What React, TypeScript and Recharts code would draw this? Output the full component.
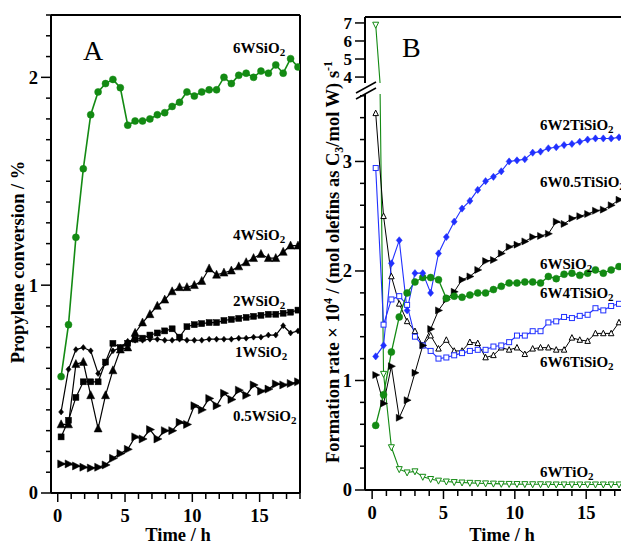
import React from "react";
import { LineChart, Line, XAxis, YAxis, ReferenceLine } from "recharts";

// time on stream (h), shared by both panels
const timeA = [0.25, 0.8, 1.35, 1.9, 2.45, 3.0, 3.55, 4.1, 4.65, 5.2, 5.75, 6.3, 6.85, 7.4, 7.95, 8.5, 9.05, 9.6, 10.15, 10.7, 11.25, 11.8, 12.35, 12.9, 13.45, 14.0, 14.55, 15.1, 15.65, 16.2, 16.75, 17.3, 17.85];
const timeB = [0.25, 0.8, 1.35, 1.9, 2.45, 3.0, 3.55, 4.1, 4.65, 5.2, 5.75, 6.3, 6.85, 7.4, 7.95, 8.5, 9.05, 9.6, 10.15, 10.7, 11.25, 11.8, 12.35, 12.9, 13.45, 14.0, 14.55, 15.1, 15.65, 16.2, 16.75, 17.3, 17.85];

// panel A: propylene conversion (%)
const conv6W = [0.56, 0.81, 1.23, 1.56, 1.82, 1.93, 1.97, 1.99, 1.95, 1.77, 1.79, 1.79, 1.8, 1.82, 1.83, 1.86, 1.88, 1.93, 1.91, 1.93, 1.94, 1.94, 2.0, 1.97, 2.01, 2.02, 2.0, 2.03, 2.02, 2.06, 2.02, 2.09, 2.05];
const conv4W = [0.33, 0.33, 0.62, 0.63, 0.47, 0.31, 0.47, 0.59, 0.69, 0.7, 0.77, 0.82, 0.86, 0.9, 0.93, 0.97, 0.99, 0.99, 1.0, 1.02, 1.08, 1.05, 1.06, 1.07, 1.09, 1.11, 1.13, 1.15, 1.13, 1.13, 1.16, 1.19, 1.19];
const conv2W = [0.27, 0.35, 0.46, 0.535, 0.535, 0.535, 0.63, 0.72, 0.7, 0.72, 0.74, 0.745, 0.76, 0.77, 0.78, 0.79, 0.75, 0.8, 0.81, 0.815, 0.82, 0.82, 0.83, 0.835, 0.84, 0.845, 0.85, 0.855, 0.86, 0.86, 0.865, 0.87, 0.88];
const conv1W = [0.39, 0.595, 0.69, 0.7, 0.684, 0.575, 0.626, 0.684, 0.7, 0.73, 0.735, 0.735, 0.74, 0.74, 0.735, 0.735, 0.74, 0.735, 0.735, 0.735, 0.74, 0.74, 0.74, 0.74, 0.745, 0.745, 0.75, 0.75, 0.76, 0.76, 0.805, 0.77, 0.78];
const conv05W = [0.14, 0.14, 0.13, 0.124, 0.12, 0.124, 0.135, 0.167, 0.19, 0.21, 0.27, 0.26, 0.305, 0.26, 0.3, 0.3, 0.34, 0.33, 0.42, 0.4, 0.455, 0.42, 0.48, 0.45, 0.495, 0.47, 0.52, 0.49, 0.5, 0.525, 0.52, 0.527, 0.535];

// panel B: formation rate x 10^4
const rate2Ti = [1.22, 1.32, 2.07, 2.28, 1.64, 1.98, 1.98, 1.8, 2.16, 2.31, 2.45, 2.57, 2.64, 2.74, 2.82, 2.86, 2.91, 3.0, 3.01, 3.02, 3.08, 3.09, 3.12, 3.13, 3.15, 3.16, 3.18, 3.2, 3.21, 3.21, 3.21, 3.22, 3.22];
const rate05Ti = [1.05, 0.79, 1.13, 0.66, 0.82, 1.07, 1.32, 1.47, 1.64, 1.74, 1.81, 1.92, 1.95, 2.01, 2.09, 2.1, 2.16, 2.22, 2.24, 2.27, 2.31, 2.32, 2.34, 2.45, 2.43, 2.48, 2.5, 2.52, 2.55, 2.56, 2.6, 2.65, 2.68];
const rateSiO2 = [0.59, 0.87, 1.26, 1.58, 1.8, 1.9, 1.94, 1.94, 1.92, 1.75, 1.77, 1.76, 1.78, 1.8, 1.8, 1.83, 1.86, 1.89, 1.89, 1.9, 1.9, 1.89, 1.95, 1.93, 1.97, 1.98, 1.96, 1.98, 2.01, 1.98, 2.01, 2.04, 2.05];
const rate4Ti = [2.94, 1.51, 1.74, 1.77, 1.69, 1.4, 1.32, 1.27, 1.2, 1.21, 1.23, 1.25, 1.27, 1.28, 1.28, 1.31, 1.32, 1.35, 1.41, 1.41, 1.45, 1.45, 1.53, 1.54, 1.58, 1.57, 1.59, 1.6, 1.66, 1.64, 1.68, 1.7, 1.71];
const rate6Ti = [3.44, 2.5, 1.95, 1.7, 1.54, 1.45, 1.32, 1.41, 1.29, 1.37, 1.27, 1.27, 1.35, 1.34, 1.21, 1.23, 1.3, 1.28, 1.3, 1.24, 1.29, 1.3, 1.3, 1.28, 1.28, 1.39, 1.37, 1.36, 1.43, 1.43, 1.43, 1.53, 1.55];
const rateTiO2 = [6.9, 1.06, 0.39, 0.19, 0.16, 0.17, 0.12, 0.1, 0.085, 0.077, 0.072, 0.068, 0.065, 0.062, 0.06, 0.058, 0.056, 0.055, 0.054, 0.053, 0.052, 0.052, 0.051, 0.05, 0.05, 0.05, 0.05, 0.05, 0.05, 0.05, 0.05, 0.05, 0.05];

// ticks
const xTicks = [0, 1, 2, 3, 4, 5, 6, 7, 8, 9, 10, 11, 12, 13, 14, 15, 16, 17, 18];
const xMajors = [0, 5, 10, 15];
const yMajorsA = [0, 1, 2];
const yMajorsBLow = [0, 1, 2, 3];
const yTicksBUp = [4, 5, 6, 7];
const yTicksA = Array.from({ length: 24 }, (_, i) => +(i * 0.1).toFixed(1));
const yTicksBLow = Array.from({ length: 19 }, (_, i) => +(i * 0.2).toFixed(1));

const dataA = timeA.map((t, i) => ({
  t,
  w6: conv6W[i],
  w4: conv4W[i],
  w2: conv2W[i],
  w1: conv1W[i],
  w05: conv05W[i],
}));

const dataB = timeB.map((t, i) => ({
  t,
  ti2: rate2Ti[i],
  ti05: rate05Ti[i],
  sio2: rateSiO2[i],
  ti4: rate4Ti[i],
  ti6: rate6Ti[i],
  tio2: rateTiO2[i],
}));

const FONT = "'Liberation Serif', 'Times New Roman', serif";
const GREEN = "#138a13";
const BLUE = "#2030ff";
const BLACK = "#000";
const AXIS = { stroke: "#000", strokeWidth: 2 };

const isIn = (arr: number[], v: number) => arr.some((m) => Math.abs(m - v) < 1e-6);

function YTick(props: any) {
  const { x, y, payload, majors, fontSize = 18.5 } = props;
  const v = payload.value;
  const major = isIn(majors, v);
  const len = major ? 10 : 5;
  return (
    <g>
      <line x1={x - len} x2={x} y1={y} y2={y} stroke="#000" strokeWidth={1.5} />
      {major && (
        <text x={x - len - 3} y={y} dy="0.35em" textAnchor="end" fontFamily={FONT} fontWeight="bold" fontSize={fontSize} fill="#000">
          {v}
        </text>
      )}
    </g>
  );
}

function XTick(props: any) {
  const { x, y, payload } = props;
  const v = payload.value;
  const major = isIn(xMajors, v);
  const len = major ? 9 : 6;
  return (
    <g>
      <line x1={x} x2={x} y1={y} y2={y + len} stroke="#000" strokeWidth={1.5} />
      {major && (
        <text x={x} y={y + 29} textAnchor="middle" fontFamily={FONT} fontWeight="bold" fontSize={18.5} fill="#000">
          {v}
        </text>
      )}
    </g>
  );
}

type Kind = "circle" | "diamond" | "square" | "up" | "down" | "right";

function marker(kind: Kind, size: number, color: string, open = false) {
  return (props: any) => {
    const { cx, cy, index } = props;
    const key = `m-${index}`;
    if (cx == null || cy == null || isNaN(cx) || isNaN(cy)) return <g key={key} />;
    const h = size / 2;
    const st = { fill: open ? "#fff" : color, stroke: color, strokeWidth: open ? 1 : 0.5 };
    if (kind === "circle") return <circle key={key} cx={cx} cy={cy} r={h} {...st} />;
    if (kind === "square") return <rect key={key} x={cx - h} y={cy - h} width={size} height={size} {...st} />;
    let pts = "";
    if (kind === "diamond") pts = `${cx},${cy - h * 1.2} ${cx + h},${cy} ${cx},${cy + h * 1.2} ${cx - h},${cy}`;
    if (kind === "up") pts = `${cx},${cy - h * 1.15} ${cx + h},${cy + h * 0.85} ${cx - h},${cy + h * 0.85}`;
    if (kind === "down") pts = `${cx},${cy + h * 1.15} ${cx + h},${cy - h * 0.85} ${cx - h},${cy - h * 0.85}`;
    if (kind === "right") pts = `${cx + h * 1.15},${cy} ${cx - h * 0.85},${cy - h} ${cx - h * 0.85},${cy + h}`;
    return <polygon key={key} points={pts} {...st} />;
  };
}

function Chem({ x, y, text }: { x: number; y: number; text: string }) {
  return (
    <text x={x} y={y} fontFamily={FONT} fontWeight="bold" fontSize={15} fill="#000">
      {text}
      <tspan dy={3} fontSize={11}>2</tspan>
    </text>
  );
}

export default function App() {
  return (
    <div style={{ position: "absolute", left: 0, top: 0, width: 621, height: 546, overflow: "hidden", background: "#fff" }}>
      {/* panel A */}
      <div style={{ position: "absolute", left: 0, top: 0 }}>
        <LineChart width={310} height={546} data={dataA} margin={{ top: 15, right: 10, bottom: 0, left: 0 }}>
          <XAxis type="number" dataKey="t" domain={[-0.5, 18]} ticks={xTicks} interval={0} height={53} tickSize={0} tickMargin={0} tickLine={false} axisLine={AXIS} tick={<XTick />} allowDataOverflow />
          <YAxis type="number" domain={[0, 2.3]} ticks={yTicksA} interval={0} width={51} tickSize={0} tickMargin={0} tickLine={false} axisLine={AXIS} tick={<YTick majors={yMajorsA} />} allowDataOverflow />
          <ReferenceLine y={2.3} stroke="#000" strokeWidth={2} />
          <ReferenceLine x={18} stroke="#000" strokeWidth={2} />
          <Line dataKey="w05" stroke={BLACK} strokeWidth={1.2} dot={marker("right", 8, BLACK)} activeDot={false} isAnimationActive={false} />
          <Line dataKey="w1" stroke={BLACK} strokeWidth={1.2} dot={marker("diamond", 5, BLACK)} activeDot={false} isAnimationActive={false} />
          <Line dataKey="w2" stroke={BLACK} strokeWidth={1.2} dot={marker("square", 6, BLACK)} activeDot={false} isAnimationActive={false} />
          <Line dataKey="w4" stroke={BLACK} strokeWidth={1.2} dot={marker("up", 8, BLACK)} activeDot={false} isAnimationActive={false} />
          <Line dataKey="w6" stroke={GREEN} strokeWidth={1.6} dot={marker("circle", 7, GREEN)} activeDot={false} isAnimationActive={false} />
        </LineChart>
      </div>

      {/* panel B, lower segment */}
      <div style={{ position: "absolute", left: 300, top: 0 }}>
        <LineChart width={340} height={546} data={dataB} margin={{ top: 94, right: 11, bottom: 0, left: 0 }}>
          <XAxis type="number" dataKey="t" domain={[-0.5, 18]} ticks={xTicks} interval={0} height={56} tickSize={0} tickMargin={0} tickLine={false} axisLine={AXIS} tick={<XTick />} allowDataOverflow />
          <YAxis type="number" domain={[0, 3.616]} ticks={yTicksBLow} interval={0} width={65} tickSize={0} tickMargin={0} tickLine={false} axisLine={AXIS} tick={<YTick majors={yMajorsBLow} />} allowDataOverflow />
          <ReferenceLine x={18} stroke="#000" strokeWidth={2} />
          <Line dataKey="tio2" stroke={GREEN} strokeWidth={1.1} dot={marker("down", 6, GREEN, true)} activeDot={false} isAnimationActive={false} />
          <Line dataKey="ti6" stroke={BLACK} strokeWidth={1} dot={marker("up", 5.5, BLACK, true)} activeDot={false} isAnimationActive={false} />
          <Line dataKey="ti4" stroke={BLUE} strokeWidth={1.1} dot={marker("square", 5, BLUE, true)} activeDot={false} isAnimationActive={false} />
          <Line dataKey="ti05" stroke={BLACK} strokeWidth={1} dot={marker("right", 7, BLACK)} activeDot={false} isAnimationActive={false} />
          <Line dataKey="sio2" stroke={GREEN} strokeWidth={1.3} dot={marker("circle", 7, GREEN)} activeDot={false} isAnimationActive={false} />
          <Line dataKey="ti2" stroke={BLUE} strokeWidth={1.1} dot={marker("diamond", 6, BLUE)} activeDot={false} isAnimationActive={false} />
        </LineChart>
      </div>

      {/* panel B, upper segment above the axis break */}
      <div style={{ position: "absolute", left: 300, top: 0 }}>
        <LineChart width={340} height={92} data={dataB} margin={{ top: 17, right: 11, bottom: 9, left: 0 }}>
          <XAxis type="number" dataKey="t" domain={[-0.5, 18]} hide height={0} allowDataOverflow />
          <YAxis type="number" domain={[3.67, 7.33]} ticks={yTicksBUp} interval={0} width={65} tickSize={0} tickMargin={0} tickLine={false} axisLine={AXIS} tick={<YTick majors={yTicksBUp} fontSize={17} />} allowDataOverflow />
          <ReferenceLine y={7.33} stroke="#000" strokeWidth={2} />
          <ReferenceLine x={18} stroke="#000" strokeWidth={2} />
          <Line dataKey="tio2" stroke={GREEN} strokeWidth={1.1} dot={marker("down", 6, GREEN, true)} activeDot={false} isAnimationActive={false} />
        </LineChart>
      </div>

      {/* annotations */}
      <svg width={621} height={546} style={{ position: "absolute", left: 0, top: 0, pointerEvents: "none" }}>
        <text x={83} y={60} fontFamily={FONT} fontSize={28} fill="#000">A</text>
        <text x={402} y={57} fontFamily={FONT} fontSize={28} fill="#000">B</text>

        <Chem x={233} y={53} text="6WSiO" />
        <Chem x={233} y={240} text="4WSiO" />
        <Chem x={233} y={306} text="2WSiO" />
        <Chem x={235} y={357} text="1WSiO" />
        <Chem x={233} y={421} text="0.5WSiO" />

        <Chem x={540} y={130} text="6W2TiSiO" />
        <Chem x={540} y={187} text="6W0.5TiSiO" />
        <Chem x={540} y={269} text="6WSiO" />
        <Chem x={540} y={298} text="6W4TiSiO" />
        <Chem x={540} y={367} text="6W6TiSiO" />
        <Chem x={540} y={477} text="6WTiO" />

        <text transform="translate(24,262) rotate(-90)" textAnchor="middle" fontFamily={FONT} fontWeight="bold" fontSize={18.5} fill="#000">
          Propylene conversion / %
        </text>
        <text transform="translate(339,262) rotate(-90)" textAnchor="middle" fontFamily={FONT} fontWeight="bold" fontSize={18.5} fill="#000">
          Formation rate × 10<tspan dy={-7} fontSize={12}>4</tspan>
          <tspan dy={7}> / (mol olefins as C</tspan>
          <tspan dy={4} fontSize={12}>3</tspan>
          <tspan dy={-4}>/mol W) s</tspan>
          <tspan dy={-7} fontSize={12}>-1</tspan>
        </text>

        <text x={178} y={541} textAnchor="middle" fontFamily={FONT} fontWeight="bold" fontSize={18.5} fill="#000">Time / h</text>
        <text x={502} y={541} textAnchor="middle" fontFamily={FONT} fontWeight="bold" fontSize={18.5} fill="#000">Time / h</text>

        {/* axis break marks */}
        <line x1={356} y1={93} x2={376} y2={82} stroke="#000" strokeWidth={1.5} />
        <line x1={356} y1={99} x2={376} y2={88} stroke="#000" strokeWidth={1.5} />
      </svg>
    </div>
  );
}
